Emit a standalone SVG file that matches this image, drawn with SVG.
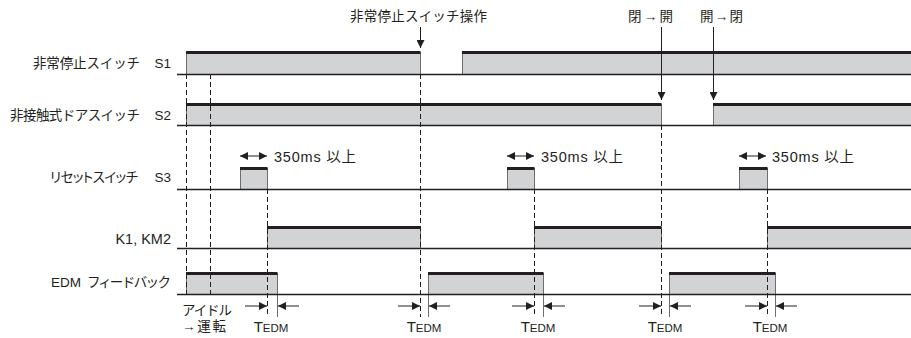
<svg xmlns="http://www.w3.org/2000/svg" width="911" height="338" viewBox="0 0 911 338">
<style>
text{font-family:"Liberation Sans","Noto Sans CJK JP",sans-serif;font-size:13.5px;fill:#231f20}
.lbl{text-anchor:end}
.mid{text-anchor:middle}
.p{font-feature-settings:"palt"}
.fill{fill:#d1d3d4;stroke:none}
.edge{stroke:#6d6e71;stroke-width:1;fill:none}
.top{stroke:#231f20;stroke-width:3;fill:none}
.base{stroke:#231f20;stroke-width:1.5;fill:none}
.dash{stroke:#231f20;stroke-width:1;stroke-dasharray:5 3;fill:none}
.ln{stroke:#231f20;stroke-width:1;fill:none}
.ms{font-size:14.5px}
.t{font-size:15px}
.sub{font-size:11.5px}
</style>
<defs>
<marker id="arr" viewBox="0 0 10 10" refX="10" refY="5" markerWidth="8" markerHeight="8" markerUnits="userSpaceOnUse" orient="auto"><path d="M0,0L10,5L0,10Z" fill="#231f20"/></marker>
<marker id="arrs" viewBox="0 0 10 10" refX="10" refY="5" markerWidth="8" markerHeight="8" markerUnits="userSpaceOnUse" orient="auto-start-reverse"><path d="M0,0L10,5L0,10Z" fill="#231f20"/></marker>
</defs>

<g id="s1">
<text x="33" y="68" textLength="107">非常停止スイッチ</text>
<text class="lbl" x="171" y="68">S1</text>
<rect class="fill" x="186" y="52" width="234" height="22"/>
<rect class="fill" x="462" y="52" width="449" height="22"/>
<path class="edge" d="M186.5,74V52M420.5,74V52M462.5,74V52"/>
<path class="top" d="M186,52.5H420.5M462,52.5H911"/>
<path class="base" d="M177,74.5H911"/>
</g>

<g id="s2">
<text x="10" y="120" textLength="130">非接触式ドアスイッチ</text>
<text class="lbl" x="171" y="120">S2</text>
<rect class="fill" x="186" y="104" width="475" height="21"/>
<rect class="fill" x="713" y="104" width="198" height="21"/>
<path class="edge" d="M186.5,125V104M661.5,125V104M713.5,125V104"/>
<path class="top" d="M186,104.5H661.5M713,104.5H911"/>
<path class="base" d="M177,125.5H911"/>
</g>

<g id="s3">
<text class="p" x="50" y="182" textLength="88">リセットスイッチ</text>
<text class="lbl" x="171" y="182">S3</text>
<rect class="fill" x="240" y="168" width="27" height="21"/>
<rect class="fill" x="507" y="168" width="27" height="21"/>
<rect class="fill" x="739" y="168" width="28" height="21"/>
<path class="edge" d="M240.5,189V168M267.5,189V168M507.5,189V168M534.5,189V168M739.5,189V168M767.5,189V168"/>
<path class="top" d="M240,168.5H267.5M507,168.5H534.5M739,168.5H767.5"/>
<path class="base" d="M177,189.5H911"/>
<text class="ms" x="274" y="162" textLength="82">350ms 以上</text>
<text class="ms" x="541" y="162" textLength="82">350ms 以上</text>
<text class="ms" x="772" y="162" textLength="82">350ms 以上</text>
</g>

<g id="k1">
<text class="ms lbl" x="171" y="244">K1, KM2</text>
<rect class="fill" x="267" y="227" width="153" height="21"/>
<rect class="fill" x="534" y="227" width="127" height="21"/>
<rect class="fill" x="767" y="227" width="144" height="21"/>
<path class="edge" d="M267.5,248V227M420.5,248V227M534.5,248V227M661.5,248V227M767.5,248V227"/>
<path class="top" d="M267,227.5H420.5M534,227.5H661.5M767,227.5H911"/>
<path class="base" d="M177,248.5H911"/>
</g>

<g id="edm">
<text x="51" y="287">EDM</text>
<text class="p" x="88" y="287" textLength="82">フィードバック</text>
<rect class="fill" x="186" y="273" width="91" height="21"/>
<rect class="fill" x="428" y="273" width="115" height="21"/>
<rect class="fill" x="669" y="273" width="106" height="21"/>
<path class="edge" d="M186.5,294V273M277.5,317V273M428.5,317V273M543.5,317V273M669.5,317V273M775.5,317V273"/>
<path class="top" d="M186,273.5H277.5M428,273.5H543.5M669,273.5H775.5"/>
<path class="base" d="M177,294.5H911"/>
</g>

<g id="labels">
<text x="350" y="21" textLength="137">非常停止スイッチ操作</text>
<text x="628" y="21" textLength="45">閉→開</text>
<text x="700" y="21" textLength="43">開→閉</text>
<text x="182" y="315" textLength="50">アイドル</text>
<text x="182" y="331" textLength="44">→運転</text>
<text class="t mid" x="271" y="332">T<tspan class="sub">EDM</tspan></text>
<text class="t mid" x="424" y="332">T<tspan class="sub">EDM</tspan></text>
<text class="t mid" x="538" y="332">T<tspan class="sub">EDM</tspan></text>
<text class="t mid" x="665" y="332">T<tspan class="sub">EDM</tspan></text>
<text class="t mid" x="770" y="332">T<tspan class="sub">EDM</tspan></text>
</g>

<g id="connectors">
<path class="dash" d="M186.5,74V294M210.5,74V294M420.5,74V317M267.5,189V317M534.5,189V317M767.5,189V317M661.5,125V317"/>
<path class="ln" d="M420.5,27V48" marker-end="url(#arr)"/>
<path class="ln" d="M661.5,27V100" marker-end="url(#arr)"/>
<path class="ln" d="M713.5,27V100" marker-end="url(#arr)"/>
<path class="ln" d="M240,156H267" marker-start="url(#arrs)" marker-end="url(#arrs)"/>
<path class="ln" d="M507,156H534" marker-start="url(#arrs)" marker-end="url(#arrs)"/>
<path class="ln" d="M739,156H766" marker-start="url(#arrs)" marker-end="url(#arrs)"/>
<path class="ln" d="M245,306H267" marker-end="url(#arrs)"/>
<path class="ln" d="M299,306H278" marker-end="url(#arrs)"/>
<path class="ln" d="M398,306H420" marker-end="url(#arrs)"/>
<path class="ln" d="M450,306H429" marker-end="url(#arrs)"/>
<path class="ln" d="M512,306H534" marker-end="url(#arrs)"/>
<path class="ln" d="M565,306H544" marker-end="url(#arrs)"/>
<path class="ln" d="M639,306H661" marker-end="url(#arrs)"/>
<path class="ln" d="M691,306H670" marker-end="url(#arrs)"/>
<path class="ln" d="M745,306H767" marker-end="url(#arrs)"/>
<path class="ln" d="M797,306H776" marker-end="url(#arrs)"/>
</g>
</svg>
